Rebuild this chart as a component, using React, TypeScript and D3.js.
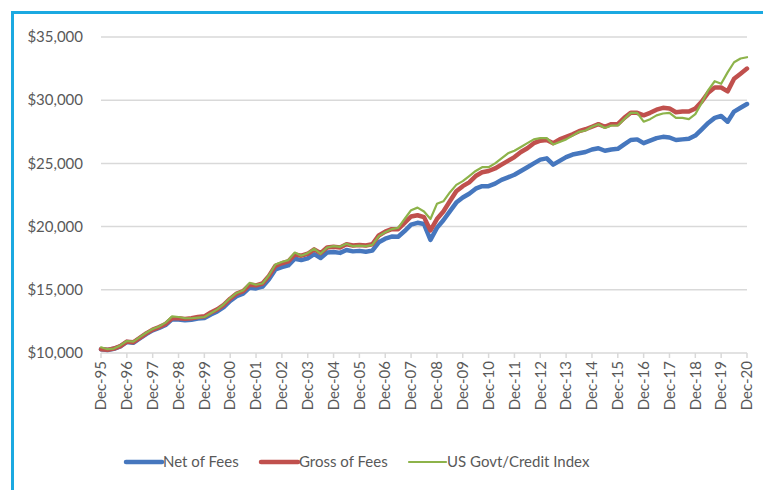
import * as d3 from 'd3'

// quarterly values, Dec-95 then Mar/Jun/Sep/Dec of each year
const netOfFees = [
  10300,
  10240, 10330, 10520, 10870,
  10810, 11150, 11500, 11790,
  11980, 12220, 12660, 12650,
  12590, 12630, 12720, 12760,
  13050, 13290, 13630, 14120,
  14500, 14690, 15170, 15110,
  15250, 15830, 16610, 16800,
  16930, 17460, 17350, 17490,
  17820, 17520, 17950, 17990,
  17920, 18150, 18040, 18080,
  18010, 18100, 18760, 19040,
  19210, 19200, 19650, 20150,
  20300, 20200, 18950, 19900,
  20500, 21200, 21900, 22300,
  22600, 23000, 23200, 23200,
  23400, 23700, 23900, 24100,
  24400, 24700, 25000, 25300,
  25400, 24900, 25200, 25500,
  25700, 25800, 25900, 26100,
  26200, 26000, 26100, 26150,
  26500, 26850, 26900, 26600,
  26800, 27000, 27100, 27050,
  26850, 26900, 26950, 27200,
  27700, 28200, 28600, 28750,
  28300, 29100, 29400, 29700,
]

const grossOfFees = [
  10300,
  10250, 10350, 10550, 10900,
  10850, 11200, 11550, 11850,
  12050, 12300, 12750, 12750,
  12700, 12750, 12850, 12900,
  13200, 13450, 13800, 14300,
  14700, 14900, 15400, 15350,
  15500, 16100, 16900, 17100,
  17250, 17800, 17700, 17850,
  18200, 17900, 18350, 18400,
  18350, 18600, 18500, 18550,
  18500, 18600, 19300, 19600,
  19800, 19800, 20300, 20800,
  20900, 20750, 19700, 20600,
  21200, 22000, 22800, 23200,
  23500, 24000, 24300, 24400,
  24600, 24900, 25200, 25500,
  25900, 26200, 26600, 26800,
  26850, 26600, 26900, 27100,
  27300, 27550, 27700, 27900,
  28100, 27900, 28100, 28100,
  28600, 29000, 29000, 28800,
  29000, 29250, 29400, 29350,
  29050, 29100, 29100, 29350,
  29900, 30600, 31000, 31000,
  30700, 31700, 32100, 32500,
]

const govtCreditIndex = [
  10450,
  10300, 10350, 10600, 10950,
  10900, 11250, 11600, 11900,
  12100, 12400, 12900, 12850,
  12750, 12750, 12800, 12850,
  13150, 13450, 13850, 14350,
  14750, 14950, 15550, 15400,
  15500, 16150, 17000, 17200,
  17350, 17950, 17700, 17900,
  18250, 17850, 18350, 18450,
  18400, 18650, 18450, 18500,
  18450, 18550, 19250, 19550,
  19800, 19900, 20600, 21300,
  21500, 21200, 20600, 21800,
  22000, 22700, 23300, 23600,
  24000, 24400, 24700, 24700,
  25000, 25400, 25800, 26000,
  26300, 26600, 26900, 27000,
  27000, 26500, 26700, 26900,
  27200, 27500, 27600, 27900,
  28100, 27800, 28000, 28000,
  28500, 29000, 29000, 28300,
  28500, 28800, 28950, 29000,
  28600, 28600, 28500, 28900,
  29800, 30800, 31500, 31300,
  32200, 33000, 33300, 33400,
]

const yearLabels = [
  'Dec-95', 'Dec-96', 'Dec-97', 'Dec-98', 'Dec-99', 'Dec-00', 'Dec-01',
  'Dec-02', 'Dec-03', 'Dec-04', 'Dec-05', 'Dec-06', 'Dec-07', 'Dec-08',
  'Dec-09', 'Dec-10', 'Dec-11', 'Dec-12', 'Dec-13', 'Dec-14', 'Dec-15',
  'Dec-16', 'Dec-17', 'Dec-18', 'Dec-19', 'Dec-20',
]

const yTicks = [10000, 15000, 20000, 25000, 30000, 35000]

const seriesDefs = [
  { name: 'Net of Fees', values: netOfFees, color: '#4677be', width: 4.5 },
  { name: 'Gross of Fees', values: grossOfFees, color: '#c0504d', width: 4.5 },
  { name: 'US Govt/Credit Index', values: govtCreditIndex, color: '#8db34a', width: 2.2 },
]

const width = 763
const height = 490
const marginLeft = 101
const plotRight = 747
const plotTop = 37
const plotBottom = 353
const font = 'Lato, "Open Sans", sans-serif'
const textColor = '#595959'
const gridColor = '#d9d9d9'

export default function App() {
  const x = d3.scaleLinear().domain([0, 100]).range([marginLeft, plotRight])
  const y = d3.scaleLinear().domain([10000, 35000]).range([plotBottom, plotTop])
  const fmt = d3.format('$,')

  const line = (vals: number[]) =>
    d3
      .line<number>()
      .x((_, i) => x(i))
      .y((d) => y(d))
      .curve(d3.curveLinear)(vals) ?? ''

  // legend positions
  const legendY = 462
  const legendItems = [
    { x: 126, len: 36 },
    { x: 261, len: 37 },
    { x: 409, len: 37 },
  ]

  return (
    <svg
      width={width}
      height={height}
      viewBox={`0 0 ${width} ${height}`}
      style={{ position: 'absolute', left: 0, top: 0, background: '#fff' }}
    >
      <rect x={0} y={0} width={width} height={height} fill="#fff" />
      {/* frame */}
      <line x1={12.5} x2={12.5} y1={11} y2={height} stroke="#1ba9e1" strokeWidth={3} />
      <line x1={11} x2={width} y1={12.5} y2={12.5} stroke="#1ba9e1" strokeWidth={3} />

      {/* gridlines + y labels */}
      {yTicks.map((t) => (
        <g key={t}>
          {t !== 10000 && (
            <line
              x1={marginLeft}
              x2={plotRight}
              y1={y(t)}
              y2={y(t)}
              stroke={gridColor}
              strokeWidth={1.5}
            />
          )}
          <text
            x={83}
            y={y(t)}
            dy="0.35em"
            textAnchor="end"
            fontFamily={font}
            fontSize={15}
            fill={textColor}
          >
            {fmt(t)}
          </text>
        </g>
      ))}

      {/* x axis */}
      <line
        x1={marginLeft}
        x2={plotRight}
        y1={plotBottom}
        y2={plotBottom}
        stroke={gridColor}
        strokeWidth={1.5}
      />
      {yearLabels.map((lab, i) => {
        const xx = x(i * 4)
        return (
          <g key={lab}>
            <line x1={xx} x2={xx} y1={plotBottom} y2={plotBottom + 5} stroke={gridColor} strokeWidth={1.5} />
            <text
              transform={`translate(${xx},${plotBottom + 8}) rotate(-90)`}
              dy="0.35em"
              textAnchor="end"
              fontFamily={font}
              fontSize={15}
              fill={textColor}
            >
              {lab}
            </text>
          </g>
        )
      })}

      {/* series */}
      {seriesDefs.map((s) => (
        <path
          key={s.name}
          d={line(s.values)}
          fill="none"
          stroke={s.color}
          strokeWidth={s.width}
          strokeLinejoin="round"
          strokeLinecap="round"
        />
      ))}

      {/* legend */}
      {seriesDefs.map((s, i) => (
        <g key={s.name}>
          <line
            x1={legendItems[i].x}
            x2={legendItems[i].x + legendItems[i].len}
            y1={legendY}
            y2={legendY}
            stroke={s.color}
            strokeWidth={s.width}
            strokeLinecap="round"
          />
          <text
            x={legendItems[i].x + legendItems[i].len + 1}
            y={legendY}
            dy="0.35em"
            fontFamily={font}
            fontSize={15}
            fill={textColor}
          >
            {s.name}
          </text>
        </g>
      ))}
    </svg>
  )
}
